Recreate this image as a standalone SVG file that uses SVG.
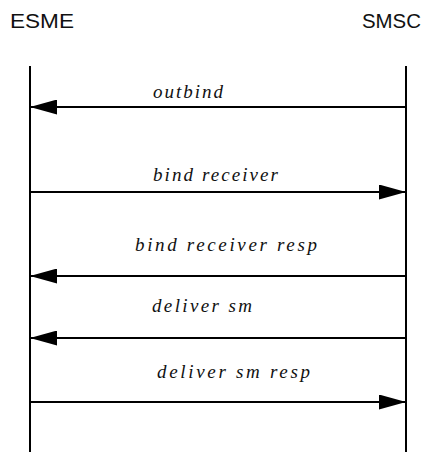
<svg xmlns="http://www.w3.org/2000/svg" width="428" height="452" viewBox="0 0 428 452">
<style>
.actor{font-family:"Liberation Sans",Arial,sans-serif;font-size:20px;fill:#111;}
.msg{font-family:"Liberation Serif","Times New Roman",serif;font-style:italic;font-size:19px;fill:#111;}
.life{stroke:#000;stroke-width:2;fill:none;}
.arrow{stroke:#000;stroke-width:2;fill:none;}
</style>
<defs>
<marker id="ah" viewBox="0 0 27 15" refX="27" refY="7.5" markerWidth="27" markerHeight="15" markerUnits="userSpaceOnUse" orient="auto">
<path d="M0,0 L27,7.5 L0,15 Z" fill="#000"/>
</marker>
</defs>
<rect width="428" height="452" fill="#fff"/>
<g id="esme">
<text class="actor" x="10" y="28" textLength="64" lengthAdjust="spacingAndGlyphs">ESME</text>
<line class="life" x1="30" y1="66" x2="30" y2="452"/>
</g>
<g id="smsc">
<text class="actor" x="362" y="28" textLength="59" lengthAdjust="spacingAndGlyphs">SMSC</text>
<line class="life" x1="406" y1="66" x2="406" y2="452"/>
</g>
<g id="connectors">
<line class="arrow" x1="406" y1="107" x2="30" y2="107" marker-end="url(#ah)"/>
<line class="arrow" x1="30" y1="192" x2="406" y2="192" marker-end="url(#ah)"/>
<line class="arrow" x1="406" y1="276" x2="30" y2="276" marker-end="url(#ah)"/>
<line class="arrow" x1="406" y1="338" x2="30" y2="338" marker-end="url(#ah)"/>
<line class="arrow" x1="30" y1="402" x2="406" y2="402" marker-end="url(#ah)"/>
<text class="msg" x="153" y="98" textLength="70" lengthAdjust="spacing">outbind</text>
<text class="msg" x="153" y="181" textLength="125" lengthAdjust="spacing">bind  receiver</text>
<text class="msg" x="135" y="251" textLength="182" lengthAdjust="spacing">bind  receiver  resp</text>
<text class="msg" x="152" y="312" textLength="100" lengthAdjust="spacing">deliver  sm</text>
<text class="msg" x="157" y="378" textLength="153" lengthAdjust="spacing">deliver  sm  resp</text>
</g>
</svg>
